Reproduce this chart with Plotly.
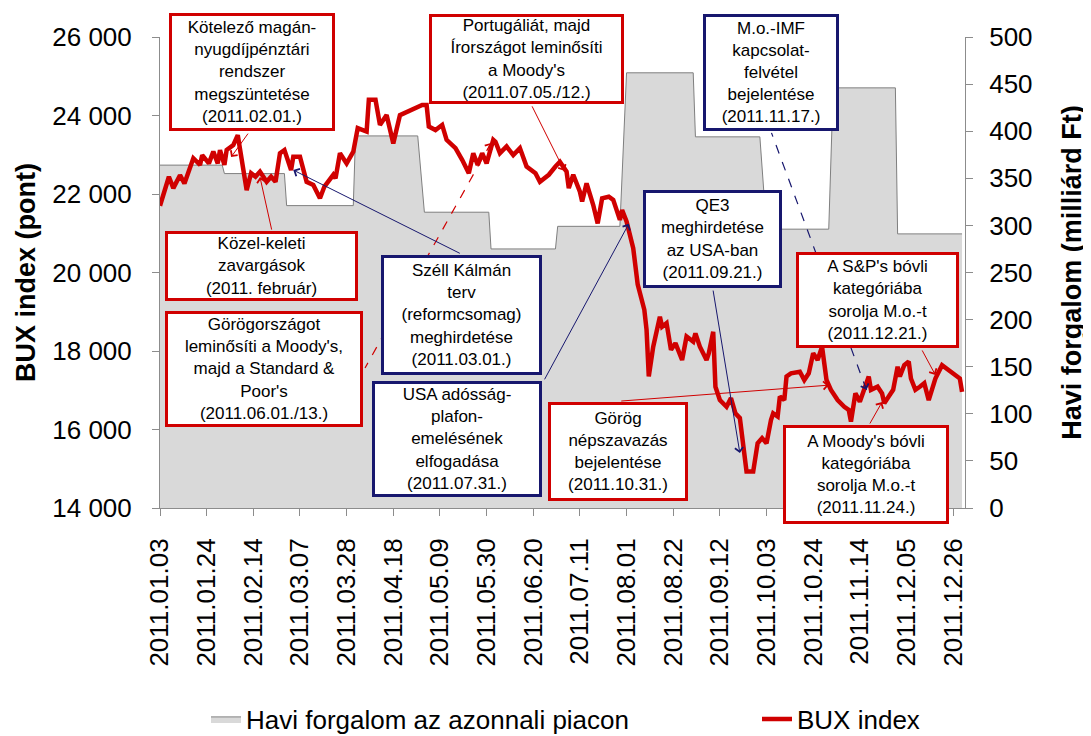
import pandas as pd
import plotly.graph_objects as go

# havi forgalom az azonnali piacon (milliard Ft), honap elso es utolso kereskedesi napja
month_first = ['2011-01-03', '2011-02-01', '2011-03-01', '2011-04-01', '2011-05-02', '2011-06-01',
               '2011-07-01', '2011-08-01', '2011-09-01', '2011-10-03', '2011-11-02', '2011-12-01']
month_last = ['2011-01-31', '2011-02-28', '2011-03-31', '2011-04-29', '2011-05-31', '2011-06-30',
              '2011-07-29', '2011-08-31', '2011-09-30', '2011-10-31', '2011-11-30', '2011-12-30']
turnover = [364, 355, 321, 395, 314, 275, 299, 462, 394, 296, 446, 291]

# BUX index: napok 2011.01.03-tol, zaro ertek (pont)
bux_start = '2011-01-03'
bux_day = [0, 4, 6, 9, 11, 15, 18, 19, 22, 24,
           26, 27, 29, 30, 33, 35, 39, 41, 43, 45,
           48, 50, 52, 54, 56, 59, 60, 63, 66, 69,
           72, 74, 78, 79, 81, 84, 87, 89, 93, 94,
           97, 99, 102, 103, 105, 108, 110, 114, 118, 120,
           121, 124, 127, 129, 133, 136, 139, 141, 143, 145,
           147, 150, 151, 153, 156, 159, 162, 165, 169, 171,
           175, 178, 180, 183, 184, 186, 189, 190, 192, 195,
           197, 199, 202, 204, 207, 208, 210, 213, 215, 218,
           219, 220, 222, 225, 226, 228, 230, 232, 235, 237,
           240, 241, 243, 246, 247, 249, 250, 252, 255, 257,
           259, 261, 263, 264, 267, 269, 271, 273, 275, 276,
           278, 279, 281, 282, 284, 288, 290, 292, 294, 296,
           298, 299, 300, 302, 305, 308, 310, 311, 313, 315,
           317, 319, 320, 323, 325, 326, 328, 330, 332, 333,
           335, 337, 338, 340, 342, 344, 346, 349, 352, 354,
           356, 359, 360, 361]
bux_value = [21700, 22440, 22150, 22480, 22270, 22910, 22740, 22990, 22780, 23080,
             22780, 23120, 22740, 23120, 23250, 23500, 22100, 22530, 22440, 22570,
             22310, 22440, 22310, 23040, 23120, 22610, 22950, 22950, 22310, 22230,
             21890, 22190, 22490, 22400, 23040, 22780, 23080, 23680, 23590, 24400,
             24400, 23760, 24010, 23720, 23290, 24010, 24060, 24190, 24270, 24270,
             23720, 23630, 23760, 23380, 23170, 22870, 22530, 23040, 22740, 23040,
             22780, 23380, 23330, 23040, 23210, 22990, 23170, 22700, 22530, 22310,
             22490, 22700, 22820, 22570, 22150, 22490, 22060, 21810, 22270, 21720,
             21250, 21890, 21930, 21850, 21340, 21590, 21300, 20620, 19700, 19050,
             18540, 17350, 18110, 18870, 18620, 18710, 18030, 18200, 17770, 18370,
             18240, 18450, 18110, 17770, 17940, 18490, 17090, 16750, 16580, 16800,
             16410, 16290, 15310, 14930, 14930, 15650, 15780, 15650, 16240, 16410,
             16330, 16840, 16750, 17350, 17430, 17470, 17260, 17430, 17940, 17770,
             18110, 17600, 17260, 17010, 16750, 16580, 16500, 16200, 16920, 16710,
             17010, 17350, 17010, 17090, 16920, 16670, 16840, 17010, 17600, 17350,
             17640, 17730, 17300, 17010, 17090, 17180, 16750, 17300, 17640, 17560,
             17470, 17350, 17300, 16960]

tick_labels = ['2011.01.03', '2011.01.24', '2011.02.14', '2011.03.07', '2011.03.28', '2011.04.18',
               '2011.05.09', '2011.05.30', '2011.06.20', '2011.07.11', '2011.08.01', '2011.08.22',
               '2011.09.12', '2011.10.03', '2011.10.24', '2011.11.14', '2011.12.05', '2011.12.26']

RED = '#D00000'
NAVY = '#17176E'
FONT = 'Liberation Sans, Arial, sans-serif'

# plot area in window pixels; the page body adds an 8px offset
PL, PR, PT, PB = 160, 965, 37, 508
OFF = 8
W, H = 1091, 736


def px_x(x):
    return (x - PL) / (PR - PL)


def px_y(y):
    return (PB - y) / (PB - PT)


area_x, area_y = [], []
for f, l, v in zip(month_first, month_last, turnover):
    area_x += [f, l]
    area_y += [v, v]

bux_dates = pd.Timestamp(bux_start) + pd.to_timedelta(bux_day, unit='D')
tick_dates = pd.to_datetime(tick_labels, format='%Y.%m.%d')

fig = go.Figure()
fig.add_trace(go.Scatter(x=area_x, y=area_y, mode='lines', fill='tozeroy', yaxis='y',
                         fillcolor='#D9D9D9', line=dict(color='#7F7F7F', width=1),
                         name='Havi forgalom az azonnali piacon', legend='legend'))
fig.add_trace(go.Scatter(x=bux_dates, y=bux_value, mode='lines', yaxis='y2',
                         line=dict(color=RED, width=4.5), name='BUX index', legend='legend2'))

# text boxes: left, top, right, bottom (px), text, colour
boxes = [
    (169, 13, 335, 131, 'Kötelező magán-<br>nyugdíjpénztári<br>rendszer<br>megszüntetése<br>(2011.02.01.)', RED),
    (165, 231, 358, 301, 'Közel-keleti<br>zavargások<br>(2011. február)', RED),
    (165, 311, 363, 427, "Görögországot<br>leminősíti a Moody's,<br>majd a Standard &<br>Poor's<br>(2011.06.01./13.)", RED),
    (381, 255, 542, 375, 'Széll Kálmán<br>terv<br>(reformcsomag)<br>meghirdetése<br>(2011.03.01.)', NAVY),
    (372, 381, 542, 497, 'USA adósság-<br>plafon-<br>emelésének<br>elfogadása<br>(2011.07.31.)', NAVY),
    (548, 402, 688, 501, 'Görög<br>népszavazás<br>bejelentése<br>(2011.10.31.)', RED),
    (643, 190, 782, 288, 'QE3<br>meghirdetése<br>az USA-ban<br>(2011.09.21.)', NAVY),
    (703, 14, 839, 131, 'M.o.-IMF<br>kapcsolat-<br>felvétel<br>bejelentése<br>(2011.11.17.)', NAVY),
    (796, 252, 959, 348, "A S&P's bóvli<br>kategóriába<br>sorolja M.o.-t<br>(2011.12.21.)", RED),
    (783, 425, 949, 524, "A Moody's bóvli<br>kategóriába<br>sorolja M.o.-t<br>(2011.11.24.)", RED),
    (429, 14, 624, 104, "Portugáliát, majd<br>Írországot leminősíti<br>a Moody's<br>(2011.07.05./12.)", RED),
]

# connectors: tip (date, BUX), tail offset in px, colour, dashed
arrows = [
    ('2011-02-04', 22940, 18, -25, RED, False),
    ('2011-02-17', 22430, 12, 54, RED, False),
    ('2011-06-01', 23300, -126, 225, RED, True),
    ('2011-03-04', 22610, 168, 84, NAVY, False),
    ('2011-08-02', 21240, -85, 157, NAVY, False),
    ('2011-10-31', 17130, -209, 16, RED, False),
    ('2011-09-21', 15400, -27, -164, NAVY, False),
    ('2011-11-17', 17010, -95, -257, NAVY, True),
    ('2011-12-18', 17390, -14, -26, RED, False),
    ('2011-11-24', 16700, -13, 23, RED, False),
    ('2011-07-04', 22590, -33, -66, RED, False),
]

for tx, ty, dx, dy, col, dashed in arrows:
    if dashed:
        fig.add_shape(type='line', xref='x', yref='y2', xsizemode='pixel', ysizemode='pixel',
                      xanchor=tx, yanchor=ty, x0=0, y0=0, x1=dx, y1=-dy,
                      line=dict(color=col, width=1.2, dash='dash'))
        n = (dx ** 2 + dy ** 2) ** 0.5
        dx, dy = dx / n * 8, dy / n * 8
    fig.add_annotation(x=tx, y=ty, xref='x', yref='y2', ax=dx, ay=dy, text='',
                       showarrow=True, arrowhead=4, arrowsize=1.6, arrowwidth=1, arrowcolor=col)

BW = 3
for left, top, right, bottom, txt, col in boxes:
    fig.add_annotation(x=px_x(left), y=px_y(top), xref='paper', yref='paper',
                       xanchor='left', yanchor='top', text=txt, showarrow=False,
                       width=right - left - 2 * BW, height=bottom - top - 2 * BW,
                       align='center', valign='middle', bgcolor='white',
                       bordercolor=col, borderwidth=BW, borderpad=0,
                       font=dict(family=FONT, size=17, color='black'))

axis_common = dict(showline=True, linecolor='#8C8C8C', linewidth=1, ticks='outside',
                   tickcolor='#8C8C8C', ticklen=7, showgrid=False, zeroline=False,
                   automargin=False, tickfont=dict(family=FONT, size=26, color='black'))

legend_common = dict(orientation='h', y=px_y(719), xanchor='left', yanchor='middle',
                     font=dict(family=FONT, size=26, color='black'), bgcolor='rgba(0,0,0,0)')

fig.update_layout(
    width=W, height=H,
    margin=dict(l=PL - OFF, r=W - PR + OFF, t=PT - OFF, b=H - PB + OFF, autoexpand=False),
    paper_bgcolor='white', plot_bgcolor='white',
    font=dict(family=FONT, color='black'),
    separators=', ',
    showlegend=True,
    legend=dict(x=px_x(206), **legend_common),
    legend2=dict(x=px_x(757), **legend_common),
    xaxis=dict(type='date', range=['2011-01-03', '2011-12-31 08:00'],
               tickvals=tick_dates, ticktext=tick_labels, tickangle=-90,
               ticklabelstandoff=12, **axis_common),
    yaxis=dict(side='right', range=[0, 500], dtick=50, tickformat='d',
               ticklabelstandoff=11,
               title=dict(text='Havi forgalom (milliárd Ft)', standoff=30,
                          font=dict(family=FONT, size=27, weight='bold', color='black')),
               **axis_common),
    yaxis2=dict(side='left', overlaying='y', range=[14000, 26000], dtick=2000, tickformat=',d',
                ticklabelstandoff=15,
                title=dict(text='BUX index (pont)', standoff=8,
                           font=dict(family=FONT, size=27, weight='bold', color='black')),
                **axis_common),
)

fig.write_html("out.html")
